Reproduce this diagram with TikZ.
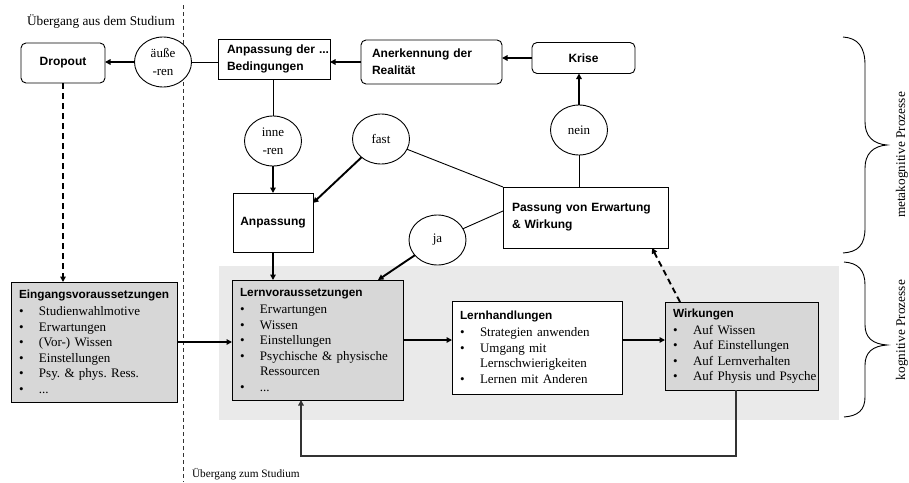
\documentclass[tikz,border=0pt]{standalone}
\usepackage{fontspec}
\setmainfont{Liberation Serif}
\newfontfamily\hdfont{Liberation Sans}
\usetikzlibrary{arrows.meta,calc,shapes.geometric}
\definecolor{bggray}{HTML}{EAEAEA}
\definecolor{boxgray}{HTML}{D7D7D7}
\definecolor{linegray}{HTML}{333333}
\newcommand\bitem[1]{\mbox{\makebox[20pt][l]{\textbullet}#1}}
\newcommand\btitle[1]{{\hdfont\bfseries\fontsize{11.8}{15.5}\selectfont #1}}
\frenchspacing
\begin{document}
\begin{tikzpicture}[x=1pt,y=-1pt,
  every node/.style={inner sep=0pt,outer sep=0pt},
  hd/.style={font=\hdfont\bfseries\fontsize{12}{17}\selectfont},
  tbox/.style={draw,line width=0.9pt,fill=white,hd,align=center},
  rbox/.style={tbox,rounded corners=5pt},
  circ/.style={ellipse,draw,line width=0.9pt,fill=white,minimum width=57pt,minimum height=50pt,
    font=\fontsize{13}{18}\selectfont,align=center},
  lbox/.style={draw,line width=0.9pt,anchor=north west,align=left,inner xsep=8pt,
    font=\fontsize{13}{15.5}\selectfont},
  arr/.style={line width=1.9pt,-{Triangle[length=5.5pt,width=5.5pt]}},
  thinl/.style={line width=0.9pt},
  dsh/.style={dash pattern=on 6pt off 4pt},
  fb/.style={line width=1.3pt,linegray,-{Triangle[length=5.5pt,width=5.5pt]}},
  lbl/.style={font=\fontsize{13.3}{16}\selectfont}
]
\useasboundingbox (0,0) rectangle (909,482);
\fill[bggray] (219,266) rectangle (839,420);
\draw[line width=0.7pt,linegray,dash pattern=on 4pt off 3pt] (183,5) -- (183,482);

\node[lbl] (tAus) at (101,22) {Übergang aus dem Studium};
\node[font=\fontsize{11.3}{14}\selectfont,anchor=west] (tZum) at (192,474) {Übergang zum Studium};
\node[lbl,rotate=90] (tMeta) at (902,155) {metakognitive Prozesse};
\node[lbl,rotate=90] (tKog) at (902,330) {kognitive Prozesse};

% top boxes
\node[rbox,minimum width=84pt,minimum height=40pt] (dropout) at (63,63) {Dropout};
\node[tbox,anchor=north west,text width=94pt,inner xsep=9pt,minimum height=40pt,align=left] (anpB) at (218,39) {\mbox{Anpassung der ...}\\Bedingungen};
\node[rbox,anchor=north west,text width=119pt,inner xsep=11pt,minimum height=44pt,align=left] (anerk) at (361,40) {Anerkennung der\\Realität};
\node[rbox,minimum width=103pt,minimum height=31pt] (krise) at (583.5,58) {Krise};
\node[tbox,anchor=north west,text width=147pt,inner xsep=9pt,minimum height=61pt,align=left] (pass) at (503,187) {\mbox{Passung von Erwartung}\\\& Wirkung};
\node[tbox,minimum width=80pt,minimum height=59pt] (anp) at (273,222.5) {Anpassung};

% circles
\node[circ] (aeu) at (163,62) {äuße\\-ren};
\node[circ] (inne) at (273,141) {inne\\-ren};
\node[circ] (fast) at (381,139) {fast};
\node[circ] (nein) at (579,130) {nein};
\node[circ] (ja) at (437.5,240) {ja};

% list boxes
\node[lbox,fill=boxgray,text width=150pt,minimum height=120pt] (eing) at (11,282) {%
\btitle{Eingangsvoraussetzungen}\\[1.5pt]
\bitem{Studienwahlmotive}\\
\bitem{Erwartungen}\\
\bitem{(Vor-) Wissen}\\
\bitem{Einstellungen}\\
\bitem{Psy. \& phys. Ress.}\\
\bitem{...}};
\node[lbox,fill=boxgray,text width=155pt,minimum height=120pt] (lernv) at (232,280) {%
\btitle{Lernvoraussetzungen}\\[1.5pt]
\bitem{Erwartungen}\\
\bitem{Wissen}\\
\bitem{Einstellungen}\\
\bitem{Psychische \& physische}\\
\hspace*{20pt}Ressourcen\\
\bitem{...}};
\node[lbox,fill=white,text width=154pt,minimum height=93pt] (lernh) at (452,301) {%
\btitle{Lernhandlungen}\\[1.5pt]
\bitem{Strategien anwenden}\\
\bitem{Umgang mit}\\
\hspace*{20pt}Lernschwierigkeiten\\
\bitem{Lernen mit Anderen}};
\node[lbox,fill=boxgray,text width=137pt,minimum height=88pt] (wirk) at (665,302) {%
\btitle{Wirkungen}\\[1.5pt]
\bitem{Auf Wissen}\\
\bitem{Auf Einstellungen}\\
\bitem{Auf Lernverhalten}\\
\bitem{Auf Physis und Psyche}};

% connectors
\draw[thinl] (aeu.east) -- (aeu.east -| anpB.west);
\draw[arr] (aeu.west) -- (aeu.west -| dropout.east);
\draw[arr,dsh] (dropout.south) -- (dropout.south |- eing.north);
\draw[thinl] (inne.north) -- (inne.north |- anpB.south);
\draw[arr] (inne.south) -- (inne.south |- anp.north);
\draw[arr] (fast) -- ($(anp.north east)+(0,10)$);
\draw[thinl] (fast) -- (pass.north west);
\draw[thinl] (nein.south) -- (nein.south |- pass.north);
\draw[arr] (nein.north) -- (nein.north |- krise.south);
\draw[arr] (krise.west) -- (krise.west -| anerk.east);
\draw[arr] (anerk.west) -- (anerk.west -| anpB.east);
\draw[thinl] (ja) -- ($(pass.north west)+(0,24)$);
\draw[arr] (ja) -- ($(lernv.north east)+(-25,0)$);
\draw[arr] (anp.south) -- (anp.south |- lernv.north);
\draw[arr] (eing.east) -- (eing.east -| lernv.west);
\draw[arr] (lernv.east) -- (lernv.east -| lernh.west);
\draw[arr] (lernv.east -| lernh.east) -- (lernv.east -| wirk.west);
\draw[arr,dsh] ($(wirk.north west)+(15,0)$) -- ($(pass.south east)+(-16,0)$);
\draw[fb] ($(wirk.south west)+(71,0)$) -- ++(0,66) -| ($(lernv.south west)+(69,0)$);

% braces
\draw[thinl] (843,37) .. controls (858,38) and (865,47) .. (865,65) -- (865,122)
  .. controls (865,136) and (873,144) .. (887,145)
  .. controls (873,146) and (865,154) .. (865,168) -- (865,228)
  .. controls (865,245) and (858,252) .. (843,253);
\draw[thinl] (844,262) .. controls (858,263) and (865,270) .. (865,285) -- (865,325)
  .. controls (865,338) and (873,344) .. (887,345)
  .. controls (873,346) and (865,352) .. (865,365) -- (865,397)
  .. controls (865,410) and (858,416) .. (844,417);
\end{tikzpicture}
\end{document}
